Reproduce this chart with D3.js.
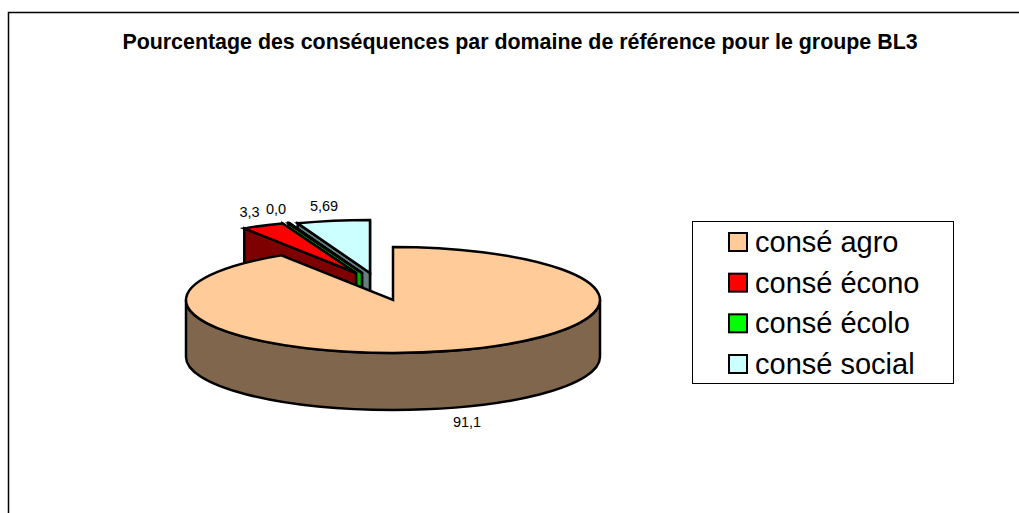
<!DOCTYPE html>
<html>
<head>
<meta charset="utf-8">
<script src="https://cdnjs.cloudflare.com/ajax/libs/d3/7.8.5/d3.min.js"></script>
<style>
  html, body { margin: 0; padding: 0; background: #fff; }
  svg { display: block; }
  text { font-family: "Liberation Sans", Arial, sans-serif; fill: #000; }
</style>
</head>
<body>
<svg id="chart" width="1019" height="513"></svg>
<script>
const titleText = "Pourcentage des conséquences par domaine de référence pour le groupe BL3";
const categories = ["consé agro", "consé écono", "consé écolo", "consé social"];
const values = [91.1, 3.3, 0.1, 5.69];
const valueLabels = ["91,1", "3,3", "0,0", "5,69"];
const topColors = ["#ffcc99", "#ff0000", "#00ff00", "#ccffff"];
const sideColors = ["#7f664c", "#7f0000", "#00b000", "#667f7f"];

// layout of the tilted pie
const cx = 393, cy = 300, rx = 207, ry = 53, depth = 57;
// how far each slice is pulled out of the pie, in pixels
const shiftX = [0, -37, -31, -23];
const shiftY = [0, -27, -27, -27];
const labelPos = [[467, 427], [249.5, 217], [276, 214], [324, 211]];

const svg = d3.select("#chart");

// frame, only left and top are inside the picture
svg.append("path")
  .attr("d", "M8.5,513V12.5H1019")
  .attr("fill", "none")
  .attr("stroke", "#000")
  .attr("stroke-width", 1.5);

svg.append("text")
  .attr("x", 520)
  .attr("y", 49)
  .attr("text-anchor", "middle")
  .attr("font-weight", "bold")
  .attr("font-size", 21.4)
  .text(titleText);

const pie = d3.pie().sort(null).value(d => d);
const arcs = pie(values).map((a, i) => ({
  i: i,
  a0: a.startAngle,
  a1: a.endAngle,
  cx: cx + shiftX[i],
  cy: cy + shiftY[i]
}));

function pt(s, a, dy = 0) {
  return [s.cx + rx * Math.sin(a), s.cy - ry * Math.cos(a) + dy];
}

// top of a slice
function topPath(s) {
  const p0 = pt(s, s.a0), p1 = pt(s, s.a1);
  const large = s.a1 - s.a0 > Math.PI ? 1 : 0;
  return `M${s.cx},${s.cy}L${p0}A${rx},${ry} 0 ${large} 1 ${p1}Z`;
}

// side wall along the rim of a slice, only the part facing the viewer
function rimPath(s, from, to) {
  const p0 = pt(s, from), p1 = pt(s, to);
  const q0 = pt(s, from, depth), q1 = pt(s, to, depth);
  const large = to - from > Math.PI ? 1 : 0;
  return `M${p0}A${rx},${ry} 0 ${large} 1 ${p1}L${q1}A${rx},${ry} 0 ${large} 0 ${q0}Z`;
}

// side wall of a radial edge
function edgePath(s, a) {
  const p = pt(s, a), q = pt(s, a, depth);
  return `M${s.cx},${s.cy}L${p}L${q}L${s.cx},${s.cy + depth}Z`;
}

const g = svg.append("g")
  .attr("stroke", "#000")
  .attr("stroke-width", 2.5)
  .attr("stroke-linejoin", "miter");

// back slices first, the big one comes last and hides their feet
[arcs[3], arcs[2], arcs[1]].forEach(s => {
  g.append("path").attr("d", edgePath(s, s.a1)).attr("fill", sideColors[s.i]);
  g.append("path").attr("d", edgePath(s, s.a0)).attr("fill", sideColors[s.i]);
  g.append("path").attr("d", topPath(s)).attr("fill", topColors[s.i]);
});

const big = arcs[0];
g.append("path").attr("d", rimPath(big, Math.PI / 2, 3 * Math.PI / 2)).attr("fill", sideColors[0]);
g.append("path").attr("d", topPath(big)).attr("fill", topColors[0]);

// value labels
svg.selectAll("text.val")
  .data(valueLabels)
  .join("text")
  .attr("class", "val")
  .attr("x", (d, i) => labelPos[i][0])
  .attr("y", (d, i) => labelPos[i][1])
  .attr("text-anchor", "middle")
  .attr("font-size", 14.5)
  .text(d => d);

// legend
svg.append("rect")
  .attr("x", 692.5).attr("y", 221.5)
  .attr("width", 261).attr("height", 162)
  .attr("fill", "#fff").attr("stroke", "#000");

const legendY = d3.scalePoint().domain(categories).range([242, 364]);
const legend = svg.selectAll("g.leg")
  .data(categories)
  .join("g")
  .attr("class", "leg")
  .attr("transform", d => `translate(0,${legendY(d)})`);

legend.append("rect")
  .attr("x", 729).attr("y", -9)
  .attr("width", 18).attr("height", 18)
  .attr("fill", (d, i) => topColors[i])
  .attr("stroke", "#000").attr("stroke-width", 2);

legend.append("text")
  .attr("x", 755).attr("y", 10)
  .attr("font-size", 29)
  .text(d => d);
</script>
</body>
</html>
